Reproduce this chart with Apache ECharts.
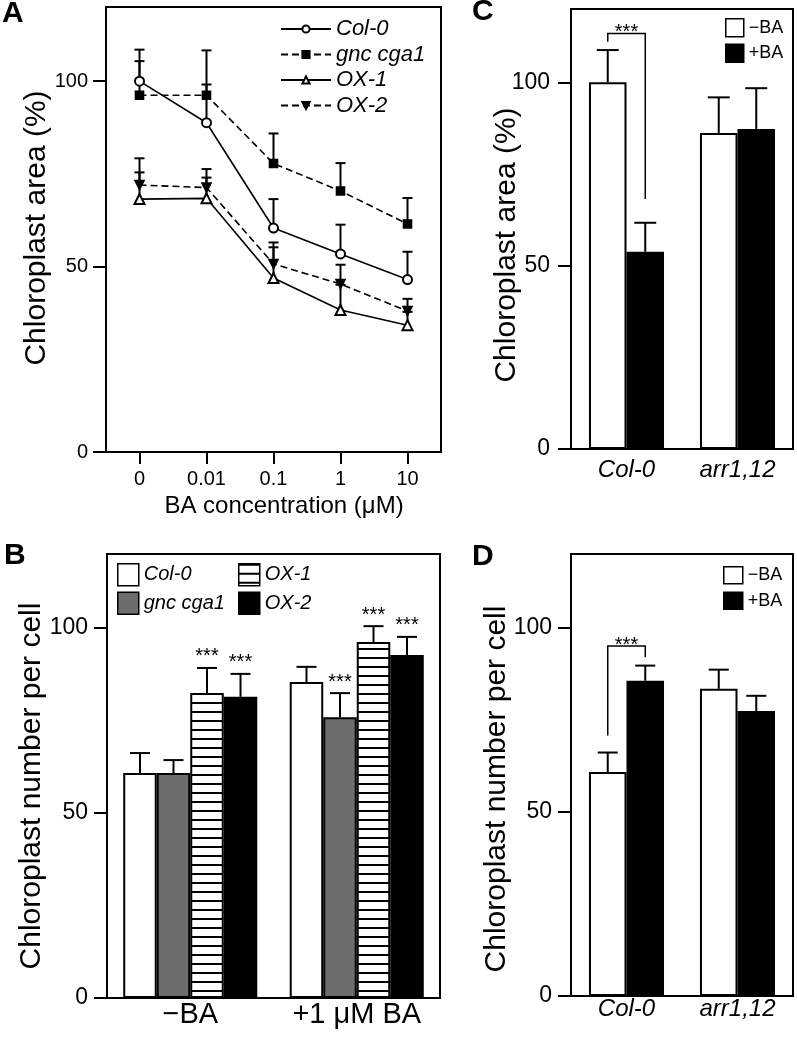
<!DOCTYPE html>
<html><head><meta charset="utf-8">
<script src="https://cdn.jsdelivr.net/npm/echarts@6/dist/echarts.min.js"></script>
<style>html,body{margin:0;padding:0;background:#fff}#c{width:797px;height:1038px}</style>
</head><body><div id="c"></div>
<script>
// ---------- data ----------
const yTicks = [0, 50, 100];
// Panel A
const concLabels = ['0', '0.01', '0.1', '1', '10'];
const aCol0 = [100, 88.8, 60.4, 53.4, 46.5];
const aCol0Err = [8.5, 10.3, 7.8, 7.9, 7.5];
const aGnc = [96.2, 96.2, 77.8, 70.4, 61.5];
const aGncErr = [9.2, 12.1, 8.1, 7.5, 7.0];
const aOx1 = [68.2, 68.4, 46.9, 38.3, 34.2];
const aOx1Err = [7.2, 5.6, 8.3, 6.8, 3.6];
const aOx2 = [72.0, 71.3, 50.7, 45.3, 38.0];
const aOx2Err = [7.2, 5.0, 5.8, 5.2, 3.3];
// Panel B
const bCats = ['\u2212BA', '+1 \u03bcM BA'];
const bCol0 = [60.8, 85.4], bCol0Err = [5.4, 4.1], bCol0Stars = [0, 0];
const bGnc = [60.8, 75.9], bGncErr = [3.5, 6.5], bGncStars = [0, 1];
const bOx1 = [82.4, 96.2], bOx1Err = [6.8, 4.3], bOx1Stars = [1, 1];
const bOx2 = [81.4, 92.7], bOx2Err = [6.2, 4.9], bOx2Stars = [1, 1];
// Panel C
const cdCats = ['Col-0', 'arr1,12'];
const cMinus = [100, 86.2], cMinusErr = [8.8, 9.7];
const cPlus = [53.8, 87.3], cPlusErr = [7.9, 11.1];
const cBracket = [111.1, 113.3, 68.2]; // left foot, top, right foot (Col-0)
// Panel D
const dMinus = [60.8, 83.4], dMinusErr = [5.3, 5.2];
const dPlus = [85.6, 77.4], dPlusErr = [4.1, 4.1];
const dBracket = [70.7, 95.0, 92.0];

// ---------- helpers ----------
const FF = '"Liberation Sans", Arial, Helvetica, sans-serif';
const pc = document.createElement('canvas');
pc.width = 8; pc.height = 9;
const pctx = pc.getContext('2d');
pctx.fillStyle = '#fff'; pctx.fillRect(0, 0, 8, 9);
pctx.fillStyle = '#000'; pctx.fillRect(0, 0, 8, 2);
const hatch = { image: pc, repeat: 'repeat' };

function errSeries(axis, vals, errs, stars, o) {
  const data = vals.map((v, i) => [i, v, errs[i], stars ? stars[i] : 0]);
  return {
    type: 'custom', xAxisIndex: axis, yAxisIndex: axis, clip: false, z: o.z || 3,
    silent: true, data: data,
    renderItem: function (params, api) {
      const i = api.value(0), v = api.value(1), e = api.value(2), s = api.value(3);
      const base = api.coord([i, v]);
      const band = api.size([1, 0])[0];
      const gw = band * (1 - o.gap);
      const cx = base[0] - gw / 2 + gw / o.n * (o.k + 0.5);
      const yTop = api.coord([i, v + e])[1];
      const st = { stroke: '#000', lineWidth: 2 };
      const ch = [
        { type: 'line', shape: { x1: cx, y1: base[1], x2: cx, y2: yTop }, style: st },
        { type: 'line', shape: { x1: cx - o.cap / 2, y1: yTop, x2: cx + o.cap / 2, y2: yTop }, style: st }
      ];
      if (s) ch.push({ type: 'text', style: { text: '***', x: cx, y: yTop - o.starOff, align: 'center', verticalAlign: 'middle', font: '20px ' + FF, fill: '#000' } });
      return { type: 'group', children: ch };
    }
  };
}
function bracketSeries(axis, br, gap) {
  return {
    type: 'custom', xAxisIndex: axis, yAxisIndex: axis, clip: false, z: 4, silent: true,
    data: [[0, br[0], br[1], br[2]]],
    renderItem: function (params, api) {
      const i = api.value(0);
      const c = api.coord([i, 0]);
      const band = api.size([1, 0])[0];
      const gw = band * (1 - gap);
      const xl = c[0] - gw / 4, xr = c[0] + gw / 4;
      const yl = api.coord([i, api.value(1)])[1];
      const yt = api.coord([i, api.value(2)])[1];
      const yr = api.coord([i, api.value(3)])[1];
      const st = { stroke: '#000', lineWidth: 1.5, fill: null };
      return { type: 'group', children: [
        { type: 'polyline', shape: { points: [[xl, yl], [xl, yt], [xr, yt], [xr, yr]] }, style: st },
        { type: 'text', style: { text: '***', x: (xl + xr) / 2, y: yt - 1, align: 'center', verticalAlign: 'middle', font: '20px ' + FF, fill: '#000' } }
      ] };
    }
  };
}
function yAx(idx, fs, margin) {
  return {
    type: 'value', gridIndex: idx, min: 0, max: 120,
    axisLine: { show: true, lineStyle: { color: '#000', width: 2 } },
    axisTick: { show: true, length: 13, lineStyle: { color: '#000', width: 2 }, customValues: yTicks },
    axisLabel: { customValues: yTicks, fontSize: fs, color: '#000', margin: margin, fontFamily: FF },
    splitLine: { show: false }
  };
}
function xAx(idx, cats, fs, margin, italic, ticks) {
  return {
    type: 'category', gridIndex: idx, data: cats, boundaryGap: true,
    axisLine: { show: true, lineStyle: { color: '#000', width: 2 } },
    axisTick: { show: ticks, alignWithLabel: true, length: 12, lineStyle: { color: '#000', width: 2 } },
    axisLabel: { fontSize: fs, color: '#000', margin: margin, fontStyle: italic ? 'italic' : 'normal', fontFamily: FF, interval: 0 },
    splitLine: { show: false }
  };
}
function lineS(name, vals, symbol, size, dashed, rot) {
  return {
    type: 'line', name: name, xAxisIndex: 0, yAxisIndex: 0, data: vals, z: 5,
    symbol: symbol, symbolSize: size, symbolRotate: rot || 0,
    lineStyle: { color: '#000', width: 1.6, type: dashed ? [7, 4] : 'solid' },
    itemStyle: { color: '#000', borderColor: '#000', borderWidth: 1.6 }
  };
}
function barS(name, axis, vals, color, gap) {
  return {
    type: 'bar', name: name, xAxisIndex: axis, yAxisIndex: axis, data: vals,
    barGap: '0%', barCategoryGap: (gap * 100) + '%',
    itemStyle: { color: color, borderColor: '#000', borderWidth: 2 }
  };
}
const stripName = n => n.split('|')[1];
const gridStyle = { show: true, borderColor: '#000', borderWidth: 2, backgroundColor: 'transparent' };
const gapB = 0.195, gapCD = 0.324;

const option = {
  animation: false,
  backgroundColor: '#fff',
  textStyle: { fontFamily: FF },
  grid: [
    Object.assign({ left: 106, top: 7, width: 335, height: 445 }, gridStyle),
    Object.assign({ left: 107, top: 554, width: 333, height: 444 }, gridStyle),
    Object.assign({ left: 571, top: 9, width: 222, height: 440 }, gridStyle),
    Object.assign({ left: 571, top: 554, width: 222, height: 442 }, gridStyle)
  ],
  xAxis: [
    xAx(0, concLabels, 20, 17, false, true),
    xAx(1, bCats, 29, 2, false, false),
    xAx(2, cdCats, 24, 9, true, false),
    xAx(3, cdCats, 24, 1, true, false)
  ],
  yAxis: [yAx(0, 20, 18), yAx(1, 23, 19), yAx(2, 23, 21), yAx(3, 23, 19)],
  legend: [
    { left: 280, top: 18, orient: 'vertical', padding: 0, itemWidth: 50, itemHeight: 9, itemGap: 3.5, selectedMode: false,
      data: ['A|Col-0', 'A|gnc cga1', 'A|OX-1', 'A|OX-2'], formatter: stripName,
      textStyle: { fontSize: 22, fontStyle: 'italic', color: '#000', lineHeight: 22, fontFamily: FF } },
    { left: 117, top: 563, orient: 'vertical', padding: 0, itemWidth: 21, itemHeight: 22, itemGap: 5, selectedMode: false, icon: 'rect',
      data: ['B|Col-0', 'B|gnc cga1'], formatter: stripName, itemStyle: { borderColor: '#000', borderWidth: 1.5 },
      textStyle: { fontSize: 20, fontStyle: 'italic', color: '#000', fontFamily: FF } },
    { left: 238, top: 563, orient: 'vertical', padding: 0, itemWidth: 21, itemHeight: 22, itemGap: 5, selectedMode: false, icon: 'rect',
      data: ['B|OX-1', 'B|OX-2'], formatter: stripName, itemStyle: { borderColor: '#000', borderWidth: 1.5 },
      textStyle: { fontSize: 20, fontStyle: 'italic', color: '#000', fontFamily: FF } },
    { left: 725, top: 18, orient: 'vertical', padding: 0, itemWidth: 18, itemHeight: 18, itemGap: 6, selectedMode: false, icon: 'rect',
      data: ['C|\u2212BA', 'C|+BA'], formatter: stripName, itemStyle: { borderColor: '#000', borderWidth: 1.5 },
      textStyle: { fontSize: 18, color: '#000', fontFamily: FF } },
    { left: 723, top: 566, orient: 'vertical', padding: 0, itemWidth: 19, itemHeight: 17, itemGap: 7, selectedMode: false, icon: 'rect',
      data: ['D|\u2212BA', 'D|+BA'], formatter: stripName, itemStyle: { borderColor: '#000', borderWidth: 1.5 },
      textStyle: { fontSize: 18, color: '#000', fontFamily: FF } }
  ],
  graphic: [
    { type: 'text', x: 2, y: 14, style: { text: 'A', font: 'bold 30px ' + FF, fill: '#000', verticalAlign: 'middle' } },
    { type: 'text', x: 4, y: 556, style: { text: 'B', font: 'bold 30px ' + FF, fill: '#000', verticalAlign: 'middle' } },
    { type: 'text', x: 472, y: 12, style: { text: 'C', font: 'bold 30px ' + FF, fill: '#000', verticalAlign: 'middle' } },
    { type: 'text', x: 472, y: 557, style: { text: 'D', font: 'bold 30px ' + FF, fill: '#000', verticalAlign: 'middle' } },
    { type: 'text', x: 37, y: 228, rotation: Math.PI / 2, style: { text: 'Chloroplast area (%)', font: '30px ' + FF, fill: '#000', align: 'center', verticalAlign: 'middle' } },
    { type: 'text', x: 32, y: 786, rotation: Math.PI / 2, style: { text: 'Chloroplast number per cell', font: '30px ' + FF, fill: '#000', align: 'center', verticalAlign: 'middle' } },
    { type: 'text', x: 507, y: 245, rotation: Math.PI / 2, style: { text: 'Chloroplast area (%)', font: '30px ' + FF, fill: '#000', align: 'center', verticalAlign: 'middle' } },
    { type: 'text', x: 497, y: 789, rotation: Math.PI / 2, style: { text: 'Chloroplast number per cell', font: '30px ' + FF, fill: '#000', align: 'center', verticalAlign: 'middle' } },
    { type: 'text', x: 284, y: 506, style: { text: 'BA concentration (\u03bcM)', font: '24px ' + FF, fill: '#000', align: 'center', verticalAlign: 'middle' } }
  ],
  series: [
    // Panel A
    errSeries(0, aCol0, aCol0Err, null, { n: 1, k: 0, gap: 0, cap: 10, z: 1 }),
    errSeries(0, aGnc, aGncErr, null, { n: 1, k: 0, gap: 0, cap: 10, z: 1 }),
    errSeries(0, aOx1, aOx1Err, null, { n: 1, k: 0, gap: 0, cap: 10, z: 1 }),
    errSeries(0, aOx2, aOx2Err, null, { n: 1, k: 0, gap: 0, cap: 10, z: 1 }),
    lineS('A|Col-0', aCol0, 'emptyCircle', 9, false),
    lineS('A|gnc cga1', aGnc, 'rect', 8, true),
    lineS('A|OX-1', aOx1, 'emptyTriangle', 10, false),
    lineS('A|OX-2', aOx2, 'triangle', 9, true, 180),
    // Panel B
    barS('B|Col-0', 1, bCol0, '#fff', gapB),
    barS('B|gnc cga1', 1, bGnc, '#6d6d6d', gapB),
    barS('B|OX-1', 1, bOx1, hatch, gapB),
    barS('B|OX-2', 1, bOx2, '#000', gapB),
    errSeries(1, bCol0, bCol0Err, bCol0Stars, { n: 4, k: 0, gap: gapB, cap: 20, starOff: 11 }),
    errSeries(1, bGnc, bGncErr, bGncStars, { n: 4, k: 1, gap: gapB, cap: 20, starOff: 11 }),
    errSeries(1, bOx1, bOx1Err, bOx1Stars, { n: 4, k: 2, gap: gapB, cap: 20, starOff: 11 }),
    errSeries(1, bOx2, bOx2Err, bOx2Stars, { n: 4, k: 3, gap: gapB, cap: 20, starOff: 11 }),
    // Panel C
    barS('C|\u2212BA', 2, cMinus, '#fff', gapCD),
    barS('C|+BA', 2, cPlus, '#000', gapCD),
    errSeries(2, cMinus, cMinusErr, null, { n: 2, k: 0, gap: gapCD, cap: 22 }),
    errSeries(2, cPlus, cPlusErr, null, { n: 2, k: 1, gap: gapCD, cap: 22 }),
    bracketSeries(2, cBracket, gapCD),
    // Panel D
    barS('D|\u2212BA', 3, dMinus, '#fff', gapCD),
    barS('D|+BA', 3, dPlus, '#000', gapCD),
    errSeries(3, dMinus, dMinusErr, null, { n: 2, k: 0, gap: gapCD, cap: 20 }),
    errSeries(3, dPlus, dPlusErr, null, { n: 2, k: 1, gap: gapCD, cap: 20 }),
    bracketSeries(3, dBracket, gapCD)
  ]
};
const chart = echarts.init(document.getElementById('c'), null, { renderer: 'canvas' });
chart.setOption(option);
</script></body></html>
